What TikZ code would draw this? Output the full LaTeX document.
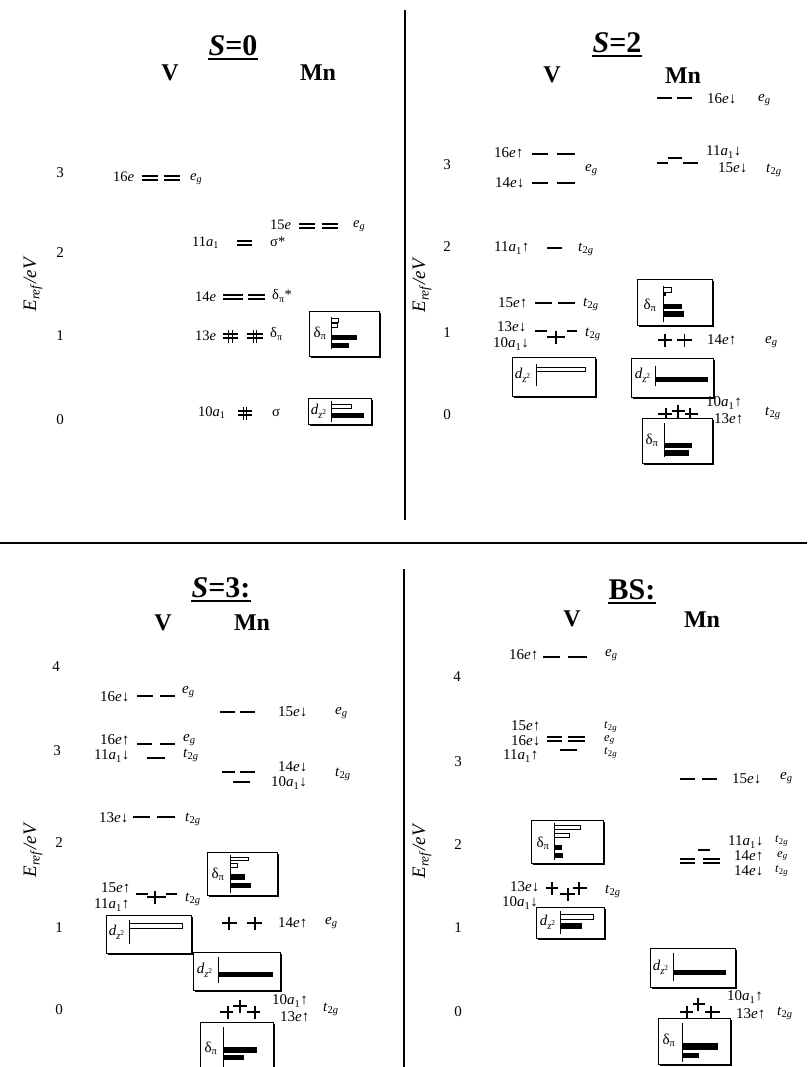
\documentclass[tikz,border=0pt]{standalone}
\usepackage{fontspec}
\setmainfont{Liberation Serif}

% orbital-label pieces
\newcommand\Leg{\textit{e}\textsubscript{\textit{g}}}
\newcommand\Ltg{\textit{t}\textsubscript{2\textit{g}}}
\newcommand\Ldp{δ\textsubscript{π}}
\newcommand\Ldz{\textit{d}\textsubscript{\textit{z}\textsuperscript{2}}}
\newcommand\Lao{\textit{a}\textsubscript{1}}
\newcommand\Lyl{\textit{E}\textsubscript{\textit{ref}}\textit{/eV}}

% level glyphs: single bar, double bar, paired electrons, single electron
\newcommand\Sgl[3]{\draw[lev] (#1,#3) -- (#2,#3);}
\newcommand\Dbl[3]{\draw[dlev] (#1,#3-1.9) -- (#2,#3-1.9) (#1,#3+1.9) -- (#2,#3+1.9);}
\newcommand\Pair[4]{\Dbl{#1}{#2}{#3}\draw[dlev] (#4-1.7,#3-6.5) -- (#4-1.7,#3+6.5) (#4+1.7,#3-6.5) -- (#4+1.7,#3+6.5);}
\newcommand\Elec[4]{\draw[lev] (#1,#3) -- (#2,#3) (#4,#3-6.5) -- (#4,#3+6.5);}
% framed contribution panels with a drop shadow
\newcommand\Frame[4]{\fill (#1+2.2,#2+2.2) rectangle (#3+2.2,#4+2.2); \draw[frame] (#1,#2) rectangle (#3,#4);}
\newcommand\Axis[3]{\draw[line width=1pt] (#1,#2) -- (#1,#3);}
\newcommand\Title[4]{\node[ttl] (#1) at (#2,#3) {#4};
  \draw[line width=2pt] ([yshift=-3.5pt]#1.base west) -- ([yshift=-3.5pt]#1.base east);}

\tikzset{
  lev/.style={line width=1.6pt},
  dlev/.style={line width=1.3pt},
  lab/.style={inner sep=0pt, anchor=west, font=\fontsize{15}{17}\selectfont},
  labz/.style={inner sep=0pt, anchor=west, font=\fontsize{14.5}{17}\selectfont},
  labs/.style={inner sep=0pt, anchor=west, font=\fontsize{12.5}{14}\selectfont},
  num/.style={inner sep=0pt, font=\fontsize{15}{17}\selectfont},
  ylab/.style={inner sep=0pt, rotate=90, font=\fontsize{19}{21}\selectfont},
  head/.style={inner sep=0pt, font=\fontsize{24}{28}\selectfont\bfseries},
  ttl/.style={inner sep=0pt, anchor=base, font=\fontsize{30}{34}\selectfont\bfseries},
  inbox/.style={inner sep=0pt, font=\fontsize{15}{17}\selectfont},
  frame/.style={draw, fill=white, line width=0.8pt},
  wbar/.style={draw, fill=white, line width=0.7pt},
  bbar/.style={draw, fill=black, line width=0.7pt},
  divider/.style={line width=1.8pt},
}

\begin{document}
\begin{tikzpicture}[x=1pt,y=-1pt]
\useasboundingbox (0,0) rectangle (807,1067);

% ---------- panel dividers ----------
\draw[divider] (405,10) -- (405,520);
\draw[divider] (0,543) -- (807,543);
\draw[divider] (404,569) -- (404,1067);

% =============== S = 0 ===============
\Title{t0}{233}{56}{\textit{S}=0}
\node[head] (v0) at (170,73) {V};
\node[head] (m0) at (318,73) {Mn};
\node[num] (n03) at (60,173) {3};
\node[num] (n02) at (60,253) {2};
\node[num] (n01) at (60,336) {1};
\node[num] (n00) at (60,420) {0};
\node[ylab] (y0) at (33,284) {\Lyl};

\node[labz] (a1) at (113,177) {16\textit{e}};
\Dbl{142}{158}{178} \Dbl{164}{180}{178}
\node[labz] (a2) at (190,179) {\Leg};

\node[labz] (a3) at (270,225) {15\textit{e}};
\Dbl{299}{315}{226} \Dbl{322}{338}{226}
\node[labz] (a4) at (353,226) {\Leg};

\node[labz] (a5) at (192,243) {11\Lao};
\Dbl{237}{252}{243}
\node[labz] (a6) at (270,242) {σ*};

\node[labz] (a7) at (195,297) {14\textit{e}};
\Dbl{223}{243}{297} \Dbl{248}{265}{297}
\node[labz] (a8) at (272,296) {\Ldp*};

\node[labz] (a9) at (195,336) {13\textit{e}};
\Pair{223}{238}{336}{230.5} \Pair{247}{263}{336}{255}
\node[labz] (a10) at (270,334) {\Ldp};

\node[labz] (a11) at (198,413) {10\Lao};
\Pair{238}{252}{413}{245}
\node[labz] (a12) at (272,413) {σ};

\Frame{309}{311}{379}{356}
\node[inbox] (b1) at (320,333) {\Ldp};
\Axis{331}{317}{349}
\draw[wbar] (331,318) rectangle (338,322);
\draw[wbar] (331,323) rectangle (337,327);
\draw[bbar] (331,335) rectangle (356,339);
\draw[bbar] (331,343) rectangle (348,347);

\Frame{308}{398}{371}{424}
\node[inbox] (b2) at (319,411) {\Ldz};
\Axis{331}{401}{422}
\draw[wbar] (331,404) rectangle (351,408);
\draw[bbar] (331,413) rectangle (363,417);

% =============== S = 2 ===============
\Title{t2}{617}{53}{\textit{S}=2}
\node[head] (v2) at (552,75) {V};
\node[head] (m2) at (683,76) {Mn};
\node[num] (n23) at (447,165) {3};
\node[num] (n22) at (447,247) {2};
\node[num] (n21) at (447,333) {1};
\node[num] (n20) at (447,415) {0};
\node[ylab] (y2) at (422,285) {\Lyl};

\Sgl{657}{672}{98} \Sgl{677}{692}{98}
\node[lab] (c1) at (707,99) {16\textit{e}↓};
\node[lab] (c2) at (758,100) {\Leg};

\node[lab] (c3) at (494,153) {16\textit{e}↑};
\Sgl{532}{548}{154} \Sgl{557}{575}{154}
\node[lab] (c4) at (495,183) {14\textit{e}↓};
\Sgl{532}{548}{183} \Sgl{557}{575}{183}
\node[lab] (c5) at (585,170) {\Leg};

\Sgl{657}{668}{163} \Sgl{668}{682}{158} \Sgl{683}{698}{163}
\node[lab] (c6) at (706,152) {11\Lao↓};
\node[lab] (c7) at (718,168) {15\textit{e}↓};
\node[lab] (c8) at (766,170) {\Ltg};

\node[lab] (c9) at (494,248) {11\Lao↑};
\Sgl{547}{562}{248}
\node[lab] (c10) at (578,249) {\Ltg};

\node[lab] (c11) at (498,303) {15\textit{e}↑};
\Sgl{535}{552}{303} \Sgl{558}{575}{303}
\node[lab] (c12) at (583,304) {\Ltg};

\node[lab] (c13) at (497,327) {13\textit{e}↓};
\node[lab] (c14) at (493,344) {10\Lao↓};
\Sgl{535}{547}{331} \Sgl{567}{577}{331}
\Elec{547}{565}{337}{556}
\node[lab] (c15) at (585,334) {\Ltg};

\Elec{658}{672}{340}{665} \Elec{677}{692}{340}{684.5}
\node[lab] (c16) at (707,340) {14\textit{e}↑};
\node[lab] (c17) at (765,342) {\Leg};

\Frame{637}{279}{712}{325}
\node[inbox] (d1) at (650,305) {\Ldp};
\Axis{663}{286}{322}
\draw[wbar] (663,287) rectangle (671,292);
\draw[bbar] (663,292) rectangle (665,295);
\draw[bbar] (663,304) rectangle (681,308);
\draw[bbar] (663,311) rectangle (683,316);

\Frame{512}{357}{595}{396}
\node[inbox] (d2) at (523,375) {\Ldz};
\Axis{536}{364}{386}
\draw[wbar] (536,367) rectangle (585,371);

\Frame{631}{358}{713}{397}
\node[inbox] (d3) at (643,375) {\Ldz};
\Axis{655}{366}{386}
\draw[bbar] (655,377) rectangle (707,381);

\Elec{658}{672}{414}{666} \Elec{672}{685}{411}{678} \Elec{685}{698}{414}{690}
\node[lab] (c18) at (706,403) {10\Lao↑};
\node[lab] (c19) at (714,419) {13\textit{e}↑};
\node[lab] (c20) at (765,413) {\Ltg};

\Frame{642}{418}{712}{463}
\node[inbox] (d4) at (652,440) {\Ldp};
\Axis{664}{423}{457}
\draw[bbar] (664,443) rectangle (691,447);
\draw[bbar] (664,450) rectangle (688,455);

% =============== S = 3 ===============
\Title{t3}{221}{597}{\textit{S}=3:}
\node[head] (v3) at (163,623) {V};
\node[head] (m3) at (252,623) {Mn};
\node[num] (n34) at (56,667) {4};
\node[num] (n33) at (57,751) {3};
\node[num] (n32) at (59,843) {2};
\node[num] (n31) at (59,928) {1};
\node[num] (n30) at (59,1010) {0};
\node[ylab] (y3) at (33,850) {\Lyl};

\node[lab] (e1) at (100,697) {16\textit{e}↓};
\Sgl{137}{153}{696} \Sgl{160}{175}{696}
\node[lab] (e2) at (182,692) {\Leg};

\Sgl{220}{235}{712} \Sgl{240}{255}{712}
\node[lab] (e3) at (278,712) {15\textit{e}↓};
\node[lab] (e4) at (335,713) {\Leg};

\node[lab] (e5) at (100,740) {16\textit{e}↑};
\Sgl{137}{152}{744} \Sgl{160}{175}{744}
\node[lab] (e6) at (183,740) {\Leg};
\node[lab] (e7) at (94,756) {11\Lao↓};
\Sgl{147}{165}{758}
\node[lab] (e8) at (183,755) {\Ltg};

\Sgl{222}{235}{772} \Sgl{240}{255}{772} \Sgl{233}{250}{782}
\node[lab] (e9) at (278,767) {14\textit{e}↓};
\node[lab] (e10) at (271,783) {10\Lao↓};
\node[lab] (e11) at (335,774) {\Ltg};

\node[lab] (e12) at (99,818) {13\textit{e}↓};
\Sgl{133}{150}{817} \Sgl{157}{175}{817}
\node[lab] (e13) at (185,819) {\Ltg};

\Frame{207}{852}{277}{895}
\node[inbox] (f1) at (218,874) {\Ldp};
\Axis{230}{855}{893}
\draw[wbar] (230,857) rectangle (248,860);
\draw[wbar] (230,863) rectangle (237,867);
\draw[bbar] (230,874) rectangle (244,879);
\draw[bbar] (230,883) rectangle (250,887);

\node[lab] (e14) at (101,888) {15\textit{e}↑};
\Sgl{136}{148}{894} \Sgl{166}{177}{894}
\Elec{147}{166}{897}{155}
\node[lab] (e15) at (185,899) {\Ltg};
\node[lab] (e16) at (94,905) {11\Lao↑};

\Frame{106}{915}{191}{953}
\node[inbox] (f2) at (117,932) {\Ldz};
\Axis{129}{920}{944}
\draw[wbar] (129,923) rectangle (182,928);

\Elec{222}{237}{923}{229} \Elec{247}{262}{923}{255}
\node[lab] (e17) at (278,923) {14\textit{e}↑};
\node[lab] (e18) at (325,923) {\Leg};

\Frame{193}{952}{280}{990}
\node[inbox] (f3) at (205,970) {\Ldz};
\Axis{218}{957}{983}
\draw[bbar] (218,972) rectangle (272,976);

\Elec{220}{233}{1012}{228} \Elec{233}{247}{1006}{240} \Elec{247}{260}{1012}{255}
\node[lab] (e19) at (272,1001) {10\Lao↑};
\node[lab] (e20) at (280,1017) {13\textit{e}↑};
\node[lab] (e21) at (323,1009) {\Ltg};

\Frame{200}{1022}{273}{1069}
\node[inbox] (f4) at (211,1048) {\Ldp};
\Axis{223}{1027}{1067}
\draw[bbar] (223,1047) rectangle (256,1052);
\draw[bbar] (223,1055) rectangle (243,1059);

% =============== BS ===============
\Title{t4}{632}{599}{BS:}
\node[head] (v4) at (572,619) {V};
\node[head] (m4) at (702,620) {Mn};
\node[num] (n44) at (457,677) {4};
\node[num] (n43) at (458,762) {3};
\node[num] (n42) at (458,845) {2};
\node[num] (n41) at (458,928) {1};
\node[num] (n40) at (458,1012) {0};
\node[ylab] (y4) at (422,851) {\Lyl};

\node[lab] (g1) at (509,655) {16\textit{e}↑};
\Sgl{543}{560}{657} \Sgl{568}{587}{657}
\node[lab] (g2) at (605,655) {\Leg};

\node[lab] (g3) at (511,726) {15\textit{e}↑};
\node[lab] (g4) at (511,741) {16\textit{e}↓};
\node[lab] (g5) at (503,756) {11\Lao↑};
\Dbl{547}{562}{739} \Dbl{568}{585}{739}
\Sgl{560}{577}{750}
\node[labs] (g6) at (604,727) {\Ltg};
\node[labs] (g7) at (604,740) {\Leg};
\node[labs] (g8) at (604,753) {\Ltg};

\Sgl{680}{695}{779} \Sgl{702}{717}{779}
\node[lab] (g9) at (732,779) {15\textit{e}↓};
\node[lab] (g10) at (780,778) {\Leg};

\Frame{531}{820}{603}{863}
\node[inbox] (h1) at (543,843) {\Ldp};
\Axis{554}{823}{860}
\draw[wbar] (554,825) rectangle (580,829);
\draw[wbar] (554,833) rectangle (569,837);
\draw[bbar] (554,845) rectangle (561,849);
\draw[bbar] (554,853) rectangle (562,857);

\Dbl{680}{695}{861} \Sgl{698}{710}{850} \Dbl{703}{720}{861}
\node[lab] (g11) at (728,842) {11\Lao↓};
\node[lab] (g12) at (734,856) {14\textit{e}↑};
\node[lab] (g13) at (734,871) {14\textit{e}↓};
\node[labs] (g14) at (775,841) {\Ltg};
\node[labs] (g15) at (777,856) {\Leg};
\node[labs] (g16) at (775,871) {\Ltg};

\node[lab] (g17) at (510,887) {13\textit{e}↓};
\node[lab] (g18) at (502,903) {10\Lao↓};
\Elec{546}{558}{888}{552} \Elec{560}{575}{894}{568} \Elec{573}{587}{888}{579}
\node[lab] (g19) at (605,891) {\Ltg};

\Frame{536}{907}{604}{938}
\node[inbox] (h2) at (548,922) {\Ldz};
\Axis{560}{911}{934}
\draw[wbar] (560,914) rectangle (593,919);
\draw[bbar] (560,923) rectangle (581,928);

\Frame{650}{948}{735}{987}
\node[inbox] (h3) at (661,967) {\Ldz};
\Axis{673}{953}{981}
\draw[bbar] (673,970) rectangle (725,974);

\Elec{680}{693}{1012}{687} \Elec{693}{705}{1004}{698} \Elec{705}{720}{1012}{711}
\node[lab] (g20) at (727,997) {10\Lao↑};
\node[lab] (g21) at (736,1014) {13\textit{e}↑};
\node[lab] (g22) at (777,1013) {\Ltg};

\Frame{658}{1018}{730}{1064}
\node[inbox] (h4) at (669,1040) {\Ldp};
\Axis{682}{1023}{1062}
\draw[bbar] (682,1043) rectangle (717,1049);
\draw[bbar] (682,1053) rectangle (698,1057);
\end{tikzpicture}
\end{document}
